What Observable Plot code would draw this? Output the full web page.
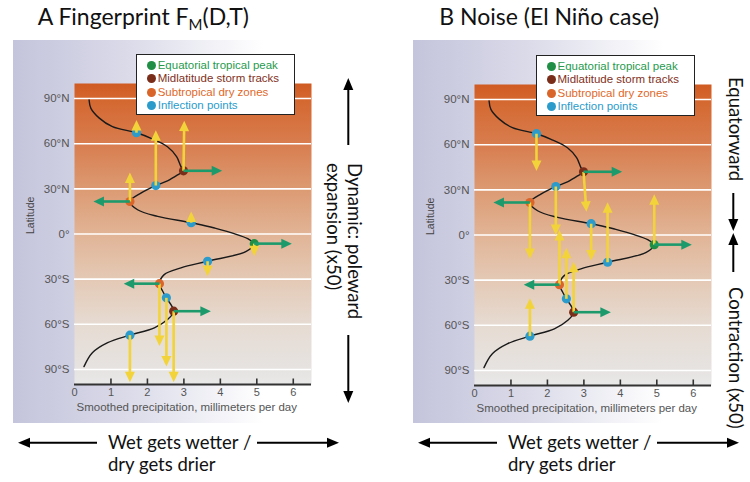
<!DOCTYPE html>
<html><head><meta charset="utf-8">
<script src="https://cdn.jsdelivr.net/npm/d3@7"></script>
<script src="https://cdn.jsdelivr.net/npm/@observablehq/plot@0.6"></script>
<style>
html,body{margin:0;padding:0;background:#fff;}
#root{position:relative;width:750px;height:482px;overflow:hidden;font-family:"Liberation Sans",Arial,sans-serif;}
.bg{position:absolute;top:40px;width:250px;height:383px;background:linear-gradient(to right,#c4c4dc 0%,#dadae9 45%,#ffffff 100%);}
.panel{position:absolute;top:0;width:375px;height:482px;}
.panel svg{max-width:none !important;}
.legend{position:absolute;width:157px;height:59px;border:1.5px solid #222;background:#fff;}
.legend .row{position:absolute;left:0;height:13px;font-size:11.5px;line-height:13px;white-space:nowrap;}
.legend .dot{position:absolute;left:10px;top:2px;width:9px;height:9px;border-radius:50%;}
.legend .lab{position:absolute;left:21px;top:0;}
</style></head><body>
<svg width="0" height="0" style="position:absolute">
  <defs>
    <linearGradient id="orangeGrad" x1="0" y1="0" x2="0" y2="1">
      <stop offset="0" stop-color="#d05b22"/>
      <stop offset="0.05" stop-color="#d4672f"/>
      <stop offset="0.2" stop-color="#d87d4f"/>
      <stop offset="0.35" stop-color="#dc9a72"/>
      <stop offset="0.5" stop-color="#e1b496"/>
      <stop offset="0.65" stop-color="#e4c9b5"/>
      <stop offset="0.8" stop-color="#e6dbd2"/>
      <stop offset="0.95" stop-color="#e6e3e1"/>
      <stop offset="1" stop-color="#e9e9e9"/>
    </linearGradient>
  </defs>
</svg>
<div id="root"></div>
<script>
// ---------------- data ----------------
const legendLabels = ["Equatorial tropical peak", "Midlatitude storm tracks", "Subtropical dry zones", "Inflection points"];
const legendColors = ["#1f8f45", "#7a2e1a", "#d9652a", "#2b9bcb"];
const legendTextColors = ["#1f9a4e", "#82301c", "#e0682a", "#2a9ccc"];

const latTicks = [90, 60, 30, 0, -30, -60, -90];
const latTickLabels = ["90°N", "60°N", "30°N", "0°", "30°S", "60°S", "90°S"];
const xTicks = [0, 1, 2, 3, 4, 5, 6];
const xTickLabels = ["0", "1", "2", "3", "4", "5", "6"];
const xLabel = "Smoothed precipitation, millimeters per day";
const yLabel = "Latitude";

// smoothed precipitation profile (same in both panels)
const curveLat = [89, 83.5, 77, 71.3, 67.3, 63.6, 58, 51.4, 44.8, 42, 39.3, 35.3, 32.2, 27.2, 21.6, 16.1, 11.7, 7.5, 4, -3.1, -6.4, -11.5, -18.1, -22.5, -27, -33, -38, -42.4, -51.3, -56.8, -62.3, -67.2, -72.2, -78.9, -88.1];
const curvePrecip = [0.40, 0.45, 0.68, 1.04, 1.70, 2.10, 2.55, 2.80, 2.92, 2.99, 2.83, 2.55, 2.23, 1.82, 1.52, 1.73, 2.28, 3.20, 3.84, 4.75, 4.93, 4.71, 3.65, 2.92, 2.46, 2.33, 2.42, 2.52, 2.72, 2.55, 2.19, 1.52, 0.91, 0.49, 0.26];

// feature points: 0 peak, 1 storm tracks, 2 dry zones, 3 inflection points
const featPrecip = [4.93, 2.99, 2.72, 1.52, 2.33, 1.70, 2.23, 3.20, 3.65, 2.52, 1.52];
const featLat    = [-6.4, 42.0, -51.3, 21.6, -33.0, 67.3, 32.2, 7.5, -18.1, -42.4, -67.2];
const featType   = [0, 1, 1, 2, 2, 3, 3, 3, 3, 3, 3];

// green (intensity) arrows: feature index -> precipitation at tip
const greenFrom = [0, 1, 2, 3, 4];
const greenToPrecip = [5.96, 4.05, 3.74, 0.52, 1.35];

// yellow (latitude shift) arrows, panel A
const yellowAFrom = [5, 6, 1, 3, 7, 0, 8, 4, 9, 2, 10];
const yellowAToLat = [75.7, 69, 75.3, 40.8, 15, -14.8, -28, -74.5, -88, -98.5, -98.5];
const yellowAToPrecip = [1.70, 2.23, 3.01, 1.52, 3.20, 4.93, 3.65, 2.33, 2.52, 2.72, 1.52];

// yellow arrows, panel B
const yellowBFrom = [5, 1, 6, 3, 7, 0, 8, 4, 9, 2, 10];
const yellowBToLat = [42.6, 15.4, 0, -16, -17, 27, 21.7, 3.3, -8.5, -17.7, -42];
const yellowBToPrecip = [1.70, 3.07, 2.23, 1.52, 3.20, 4.93, 3.65, 2.33, 2.52, 2.72, 1.52];

// ---------------- layout ----------------
const W = 375, H = 482, mL = 74, mR = 64, mT = 83, mB = 98;
const xDomain = [0, 6.5], yDomain = [-100, 100];
const pxX = (W - mL - mR) / (xDomain[1] - xDomain[0]);
const pxY = (H - mT - mB) / (yDomain[1] - yDomain[0]);

const features = featLat.map((lat, i) => ({lat, precip: featPrecip[i], type: featType[i], color: legendColors[featType[i]]}));
const curve = curveLat.map((lat, i) => ({lat, precip: curvePrecip[i]}));

function arrowRows(from, toPrecip, toLat) {
  return from.map((f, i) => {
    const x1 = features[f].precip, y1 = features[f].lat;
    const x2 = toPrecip[i], y2 = toLat ? toLat[i] : y1;
    const rot = Math.atan2((x2 - x1) * pxX, (y2 - y1) * pxY) * 180 / Math.PI;
    return {x1, y1, x2, y2, rot};
  });
}
const greens = arrowRows(greenFrom, greenToPrecip, null);
const yellowsA = arrowRows(yellowAFrom, yellowAToPrecip, yellowAToLat);
const yellowsB = arrowRows(yellowBFrom, yellowBToPrecip, yellowBToLat);

// filled triangular arrowhead, tip at the origin, pointing up
const headSymbol = {
  draw(context, size) {
    const s = Math.sqrt(size / Math.PI);
    context.moveTo(0, 0);
    context.lineTo(s, 2.1 * s);
    context.lineTo(-s, 2.1 * s);
    context.closePath();
  }
};

const YELLOW = "#f2d33a", GREEN = "#1c9a6c";

function arrowMarks(rows, color) {
  return [
    Plot.arrow(rows, {x1: "x1", y1: "y1", x2: "x2", y2: "y2", headLength: 0, insetEnd: 8, stroke: color, strokeWidth: 2.6, strokeLinecap: "butt"}),
    Plot.dot(rows, {x: "x2", y: "y2", rotate: "rot", symbol: headSymbol, r: 5, fill: color, stroke: "none"})
  ];
}

function makePanel(yellows) {
  return Plot.plot({
    width: W, height: H,
    marginLeft: mL, marginRight: mR, marginTop: mT, marginBottom: mB,
    x: {domain: xDomain},
    y: {domain: yDomain},
    color: {type: "identity"},
    style: {background: "transparent", fontFamily: "'Liberation Sans', Arial, sans-serif", fontSize: "11px", color: "#555", overflow: "visible", maxWidth: "none"},
    marks: [
      Plot.frame({fill: "url(#orangeGrad)", stroke: "none"}),
      Plot.gridY({ticks: latTicks, stroke: "white", strokeOpacity: 1, strokeWidth: 1.6}),
      Plot.ruleY([yDomain[0]], {stroke: "#333", strokeWidth: 2.2}),
      Plot.ruleX(xTicks.filter(d => d > 0), {x: d => d, y1: yDomain[0], y2: yDomain[0] + 5.5 / pxY, stroke: "#333", strokeWidth: 1.6}),
      Plot.axisX({ticks: xTicks, tickSize: 0, tickPadding: 4, label: null, fontSize: 11, fill: "#555",
        tickFormat: d => xTickLabels[xTicks.indexOf(d)]}),
      Plot.axisY({ticks: latTicks, tickSize: 0, tickPadding: 5, label: null, fontSize: 11.5, fill: "#555",
        tickFormat: d => latTickLabels[latTicks.indexOf(d)]}),
      Plot.text([yLabel], {frameAnchor: "left", dx: -44, rotate: -90, fontSize: 10.5, fill: "#444"}),
      Plot.text([xLabel], {frameAnchor: "bottom-left", textAnchor: "start", dx: 2, dy: 26.5, fontSize: 11.5, fill: "#555"}),
      Plot.line(curve, {x: "precip", y: "lat", curve: "catmull-rom", stroke: "#1a1a1a", strokeWidth: 1.4}),
      Plot.dot(features, {x: "precip", y: "lat", r: 4.6, fill: "color", stroke: "none"}),
      ...arrowMarks(yellows, YELLOW),
      ...arrowMarks(greens, GREEN)
    ]
  });
}

// ---------------- assemble ----------------
const root = document.getElementById("root");
[12.7, 412.7].forEach((left) => {
  const bg = document.createElement("div");
  bg.className = "bg";
  bg.style.left = left + "px";
  root.appendChild(bg);
});
[[0, 0, yellowsA], [400, 1, yellowsB]].forEach(([left, top, ys]) => {
  const wrap = document.createElement("div");
  wrap.className = "panel";
  wrap.style.left = left + "px";
  wrap.style.top = top + "px";
  wrap.appendChild(makePanel(ys));
  root.appendChild(wrap);
});
[[135.7, 54], [535.5, 55]].forEach(([left, top]) => {
  const lg = document.createElement("div");
  lg.className = "legend";
  lg.style.left = left + "px";
  lg.style.top = top + "px";
  legendLabels.forEach((lab, i) => {
    const row = document.createElement("div");
    row.className = "row";
    row.style.top = (4 + i * 13.4) + "px";
    row.innerHTML = `<span class="dot" style="background:${legendColors[i]}"></span><span class="lab" style="color:${legendTextColors[i]}">${lab}</span>`;
    lg.appendChild(row);
  });
  root.appendChild(lg);
});

// annotation overlay
const titleA = ["A Fingerprint F", "M", "(D,T)"];
const titleB = "B Noise (El Niño case)";
const bottomLines = ["Wet gets wetter /", "dry gets drier"];
const sideA = ["Dynamic: poleward", "expansion (x50)"];
const sideB = ["Equatorward", "Contraction (x50)"];
const FONT = "Lato, 'Open Sans', sans-serif";

const ov = d3.select(root).append("svg")
  .attr("width", 750).attr("height", 482)
  .style("position", "absolute").style("left", 0).style("top", 0)
  .attr("font-family", FONT).attr("fill", "#111");

const tA = ov.append("text").attr("x", 37.7).attr("y", 25).attr("font-size", 23);
tA.append("tspan").text(titleA[0]);
tA.append("tspan").attr("font-size", 15).attr("dy", 5).text(titleA[1]);
tA.append("tspan").attr("dy", -5).text(titleA[2]);
ov.append("text").attr("x", 439.3).attr("y", 25).attr("font-size", 23).text(titleB);

function blackArrow(x1, y1, x2, y2) {
  const L = 12, HW = 5;
  const dx = x2 - x1, dy = y2 - y1, len = Math.hypot(dx, dy), ux = dx / len, uy = dy / len;
  const bx = x2 - ux * L, by = y2 - uy * L;
  ov.append("line").attr("x1", x1).attr("y1", y1).attr("x2", bx + ux).attr("y2", by + uy)
    .attr("stroke", "#000").attr("stroke-width", 2);
  ov.append("path").attr("d", `M${x2},${y2}L${bx - uy * HW},${by + ux * HW}L${bx + uy * HW},${by - ux * HW}Z`).attr("fill", "#000");
}

// bottom annotations
[0, 400].forEach((off) => {
  blackArrow(97 + off, 442.7, 18 + off, 442.7);
  blackArrow(257 + off, 442.7, 339 + off, 442.7);
  ov.append("text").attr("x", 108 + off).attr("y", 449).attr("font-size", 18.5).text(bottomLines[0]);
  ov.append("text").attr("x", 108 + off).attr("y", 471).attr("font-size", 18.5).text(bottomLines[1]);
});

// side annotations A
blackArrow(348.3, 145, 348.3, 78);
blackArrow(348.3, 335, 348.3, 403);
ov.append("text").attr("transform", "translate(348,163) rotate(90)").attr("font-size", 18.5).text(sideA[0]);
ov.append("text").attr("transform", "translate(327,163) rotate(90)").attr("font-size", 18.5).text(sideA[1]);

// side annotations B
ov.append("text").attr("transform", "translate(729,77) rotate(90)").attr("font-size", 18.5).text(sideB[0]);
ov.append("text").attr("transform", "translate(729,287) rotate(90)").attr("font-size", 18.5).text(sideB[1]);
blackArrow(733.3, 193, 733.3, 231);
blackArrow(733.3, 272, 733.3, 233);
</script></body></html>
